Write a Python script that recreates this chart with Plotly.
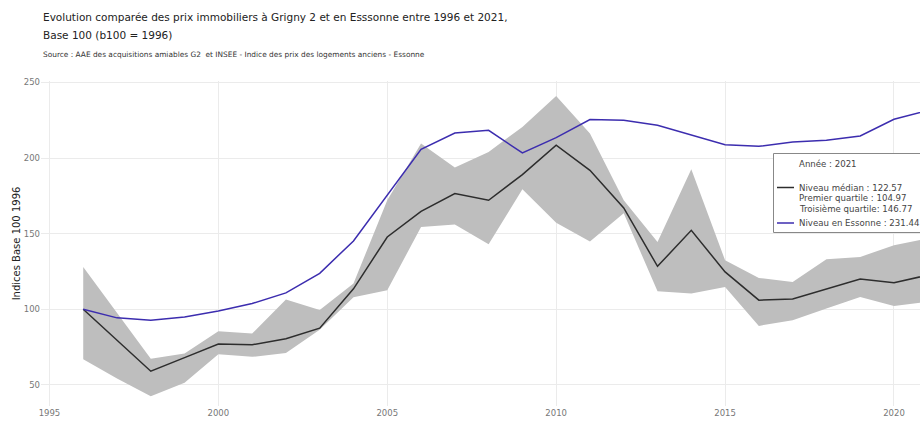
import plotly.graph_objects as go

years = list(range(1996, 2022))
median = [100.0, 79.5, 59.0, 68.0, 77.0, 76.5, 80.5, 87.5, 113.5, 147.8, 164.8, 176.5, 172.1, 189.1, 208.5,
          191.9, 167.0, 128.4, 152.2, 124.7, 106.0, 106.8, 113.2, 120.0, 117.6, 122.57]
q1 = [66.9, 54.2, 42.5, 51.4, 70.2, 68.5, 71.1, 86.5, 108.0, 112.6, 154.4, 156.0, 143.0, 179.4, 157.3,
      144.8, 163.5, 111.9, 110.4, 114.8, 89.0, 92.7, 100.5, 108.1, 102.2, 104.97]
q3 = [128.0, 97.8, 67.2, 70.7, 85.4, 83.9, 106.5, 99.5, 117.0, 172.1, 209.6, 193.7, 204.1, 220.6, 241.1,
      216.2, 172.1, 144.5, 192.6, 132.4, 120.7, 118.1, 133.1, 134.6, 142.3, 146.77]
essonne = [100.0, 94.3, 92.7, 94.9, 98.9, 103.8, 110.8, 123.8, 145.2, 175.4, 205.8, 216.6, 218.4, 203.4, 213.5,
           225.5, 225.0, 221.7, 215.1, 208.9, 207.8, 210.7, 211.8, 214.6, 225.7, 231.44]
x_ticks = [1995, 2000, 2005, 2010, 2015, 2020]
y_ticks = [50, 100, 150, 200, 250]

title_l1 = "Evolution comparée des prix immobiliers à Grigny 2 et en Esssonne entre 1996 et 2021,"
title_l2 = "Base 100 (b100 = 1996)"
source = "Source : AAE des acquisitions amiables G2  et INSEE - Indice des prix des logements anciens - Essonne"

FONT = "DejaVu Sans"
W, H = 971, 421
ML, MR, MT, MB = 41, 1, 81, 15
PW, PH = W - ML - MR, H - MT - MB


def px(xp):
    return (xp - ML) / PW


def py(yp):
    return (H - MB - yp) / PH


fig = go.Figure()
fig.add_trace(go.Scatter(x=years, y=q1, mode="lines", line=dict(width=0, color="rgb(190,190,190)"),
                         hoverinfo="skip", showlegend=False))
fig.add_trace(go.Scatter(x=years, y=q3, mode="lines", line=dict(width=0, color="rgb(190,190,190)"),
                         fill="tonexty", fillcolor="rgb(190,190,190)", hoverinfo="skip", showlegend=False))
fig.add_trace(go.Scatter(x=years, y=median, mode="lines", line=dict(color="rgb(45,45,45)", width=1.5),
                         showlegend=False))
fig.add_trace(go.Scatter(x=years, y=essonne, mode="lines", line=dict(color="rgb(60,45,175)", width=1.5),
                         showlegend=False))

fig.update_layout(
    width=W, height=H,
    margin=dict(l=ML, r=MR, t=MT, b=MB, autoexpand=False),
    paper_bgcolor="white", plot_bgcolor="white",
    showlegend=False,
    font=dict(family=FONT, color="#333"),
    xaxis=dict(range=[1994.75, 2022.25], tickvals=x_ticks, showgrid=True, gridcolor="#ebebeb",
               zeroline=False, showline=False, ticks="", tickfont=dict(size=8.5, color="#777", family=FONT)),
    yaxis=dict(range=[36, 251], tickvals=y_ticks, showgrid=True, gridcolor="#ebebeb",
               zeroline=False, showline=False, ticks="", tickfont=dict(size=8.5, color="#777", family=FONT),
               title=dict(text="Indices Base 100 1996", font=dict(size=10, color="#222", family=FONT),
                          standoff=1)),
)

# title and source
fig.add_annotation(x=px(41), y=py(17.5), xref="paper", yref="paper", xanchor="left", yanchor="middle",
                   text=title_l1, showarrow=False, font=dict(size=10.5, color="#222", family=FONT))
fig.add_annotation(x=px(41), y=py(35), xref="paper", yref="paper", xanchor="left", yanchor="middle",
                   text=title_l2, showarrow=False, font=dict(size=10.5, color="#222", family=FONT))
fig.add_annotation(x=px(41), y=py(54), xref="paper", yref="paper", xanchor="left", yanchor="middle",
                   text=source, showarrow=False, font=dict(size=7.4, color="#333", family=FONT))

# hover-like info box
fig.add_shape(type="rect", xref="paper", yref="paper", x0=px(773.5), x1=px(940), y0=py(232.5), y1=py(153.5),
              line=dict(color="#888", width=1), fillcolor="white", layer="above")
fig.add_shape(type="line", xref="paper", yref="paper", x0=px(777), x1=px(794), y0=py(187.5), y1=py(187.5),
              line=dict(color="rgb(45,45,45)", width=1.5), layer="above")
fig.add_shape(type="line", xref="paper", yref="paper", x0=px(777), x1=px(794), y0=py(223), y1=py(223),
              line=dict(color="rgb(60,45,175)", width=1.5), layer="above")

box_lines = [
    (164, f"Année : {years[-1]}"),
    (187.5, f"Niveau médian : {median[-1]:.2f}"),
    (198, f"Premier quartile : {q1[-1]:.2f}"),
    (208.5, f"Troisième quartile: {q3[-1]:.2f}"),
    (223, f"Niveau en Essonne : {essonne[-1]:.2f}"),
]
for yy, txt in box_lines:
    fig.add_annotation(x=px(797), y=py(yy), xref="paper", yref="paper", xanchor="left", yanchor="middle",
                       text=txt, showarrow=False, font=dict(size=8.6, color="#444", family=FONT))

fig.write_html("out.html", config={"displayModeBar": False},
               post_script="document.body.style.margin='0';document.body.style.overflow='hidden';"
                           "document.documentElement.style.overflow='hidden';")
